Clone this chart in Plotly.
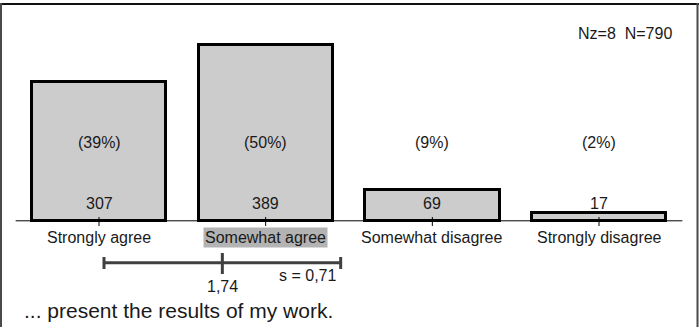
import plotly.graph_objects as go

# Survey item: "... present the results of my work."
categories = ["Strongly agree", "Somewhat agree", "Somewhat disagree", "Strongly disagree"]
counts = [307, 389, 69, 17]
percents = [39, 50, 9, 2]
highlight = "Somewhat agree"
mean_value = 1.74
std_dev = 0.71
n_missing = 8
n_total = 790
question = "... present the results of my work."

W, H = 699, 327
FONT = "Liberation Sans, Arial, sans-serif"
TEXT = "#1a1a1a"

# scale: pixels per category step and per count unit
PX_X = 166.67
X0 = 1 - 99 / PX_X
PX_Y = 0.453
BASE_PX = 220.8


def ydata(px):
    """vertical pixel (from top) -> data units"""
    return (BASE_PX - px) / PX_Y


xs = list(range(1, len(categories) + 1))

fig = go.Figure()
fig.add_trace(go.Bar(
    x=xs, y=counts, width=0.806,
    marker=dict(color="#cccccc", line=dict(color="#000000", width=3)),
    hoverinfo="skip", showlegend=False,
))

shapes = []
# baseline and category ticks
shapes.append(dict(type="line", xref="x", yref="y", x0=0.5, x1=len(categories) + 0.5,
                   y0=0, y1=0, line=dict(color="#000", width=1)))
for x in xs:
    shapes.append(dict(type="line", xref="x", yref="y", x0=x, x1=x,
                       y0=ydata(217), y1=ydata(226), line=dict(color="#000", width=1)))

# mean +/- standard deviation bar
lo, hi = mean_value - std_dev, mean_value + std_dev
y_line = ydata(262.7)
DARK = "#404040"
shapes.append(dict(type="line", xref="x", yref="y", x0=lo, x1=hi, y0=y_line, y1=y_line,
                   line=dict(color=DARK, width=3)))
for xc in (lo, hi):
    shapes.append(dict(type="line", xref="x", yref="y", x0=xc, x1=xc,
                       y0=ydata(257), y1=ydata(269), line=dict(color=DARK, width=3)))
shapes.append(dict(type="line", xref="x", yref="y", x0=mean_value, x1=mean_value,
                   y0=ydata(253), y1=ydata(274), line=dict(color=DARK, width=3)))

# frame: top rule and side rules
shapes.append(dict(type="line", xref="paper", yref="paper", x0=0, x1=1,
                   y0=1 - 4 / H, y1=1 - 4 / H, line=dict(color="#111", width=2)))
for px in (1, W - 1.5):
    shapes.append(dict(type="line", xref="paper", yref="paper", x0=px / W, x1=px / W,
                       y0=0, y1=1 - 3 / H, line=dict(color="#4a4a4a", width=2)))

ann = []
for x, c, p, name in zip(xs, counts, percents, categories):
    ann.append(dict(x=x, y=ydata(142.5), text=f"({p}%)", showarrow=False,
                    yanchor="middle",
                    font=dict(size=16, color=TEXT, family=FONT)))
    ann.append(dict(x=x, y=ydata(203.5), text=str(c), showarrow=False,
                    yanchor="middle",
                    font=dict(size=16, color=TEXT, family=FONT)))
    a = dict(x=x, y=ydata(237), text=name, showarrow=False, yanchor="middle",
             font=dict(size=16, color=TEXT, family=FONT))
    if name == highlight:
        a.update(bgcolor="#b3b3b3", borderpad=1)
    ann.append(a)

fmt = lambda v: f"{v:.2f}".replace(".", ",")
ann.append(dict(x=mean_value, y=ydata(286), text=fmt(mean_value), showarrow=False,
                yanchor="middle",
                font=dict(size=16, color=TEXT, family=FONT)))
ann.append(dict(x=hi, y=ydata(275.5), text=f"s = {fmt(std_dev)}", showarrow=False,
                xanchor="right", yanchor="middle", xshift=-3,
                font=dict(size=16, color=TEXT, family=FONT)))
ann.append(dict(x=674 / W, xref="paper", y=1 - 34 / H, yref="paper",
                text=f"Nz={n_missing}&nbsp;&nbsp;N={n_total}", showarrow=False,
                xanchor="right", yanchor="middle",
                font=dict(size=16, color=TEXT, family=FONT)))
ann.append(dict(x=22 / W, xref="paper", y=1 - 310 / H, yref="paper", text=question,
                showarrow=False, xanchor="left", yanchor="middle",
                font=dict(size=21, color=TEXT, family=FONT)))

fig.update_layout(
    width=W, height=H, margin=dict(l=0, r=0, t=0, b=0),
    paper_bgcolor="white", plot_bgcolor="white",
    xaxis=dict(range=[X0, X0 + W / PX_X], visible=False, fixedrange=True),
    yaxis=dict(range=[ydata(H), ydata(0)], visible=False, fixedrange=True),
    shapes=shapes, annotations=ann, bargap=0,
)

fig.write_html("out.html")
